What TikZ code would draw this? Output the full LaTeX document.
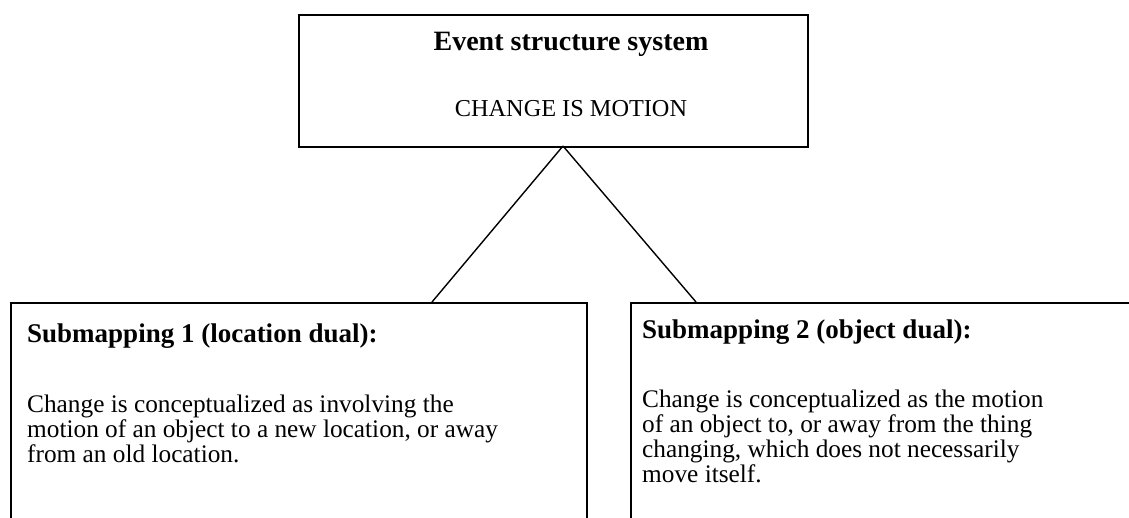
\documentclass[tikz,border=0pt]{standalone}
\usepackage{fontspec}
\setmainfont{Liberation Serif}
\begin{document}
\begin{tikzpicture}[x=1pt,y=-1pt,
  box/.style={draw, line width=1.7pt, inner sep=0pt, anchor=north west},
  conn/.style={line width=1.4pt},
  ln/.style={anchor=base west, inner sep=0pt, font=\fontsize{25.3}{25}\selectfont},
  hd/.style={anchor=base west, inner sep=0pt, font=\fontsize{27}{27}\selectfont\bfseries}]
\useasboundingbox (0,0) rectangle (1129,517);
\clip (0,0) rectangle (1129,517);
\node[box, minimum width=509pt, minimum height=132pt] (top) at (298,14) {};
\node[anchor=base, inner sep=0pt, font=\fontsize{28}{30}\selectfont\bfseries] (title) at (571,50) {Event structure system};
\node[anchor=base, inner sep=0pt, font=\fontsize{24.3}{26}\selectfont] (cim) at (571,116) {CHANGE IS MOTION};
\node[box, minimum width=576pt, minimum height=300pt] (left) at (10,302) {};
\node[box, minimum width=560pt, minimum height=300pt] (right) at (630,302) {};
\coordinate (apex) at (563,146);
\coordinate (lend) at (432,302);
\coordinate (rend) at (696,302);
\draw[conn] (apex) -- (lend);
\draw[conn] (apex) -- (rend);
\node[hd] (lh) at (27,342) {Submapping 1 (location dual):};
\node[ln] (l1) at (27,412) {Change is conceptualized as involving the};
\node[ln] (l2) at (27,437) {motion of an object to a new location, or away};
\node[ln] (l3) at (27,462) {from an old location.};
\node[hd] (rh) at (642,338) {Submapping 2 (object dual):};
\node[ln] (r1) at (642,407) {Change is conceptualized as the motion};
\node[ln] (r2) at (642,432) {of an object to, or away from the thing};
\node[ln] (r3) at (642,457) {changing, which does not necessarily};
\node[ln] (r4) at (642,482) {move itself.};
\end{tikzpicture}
\end{document}
